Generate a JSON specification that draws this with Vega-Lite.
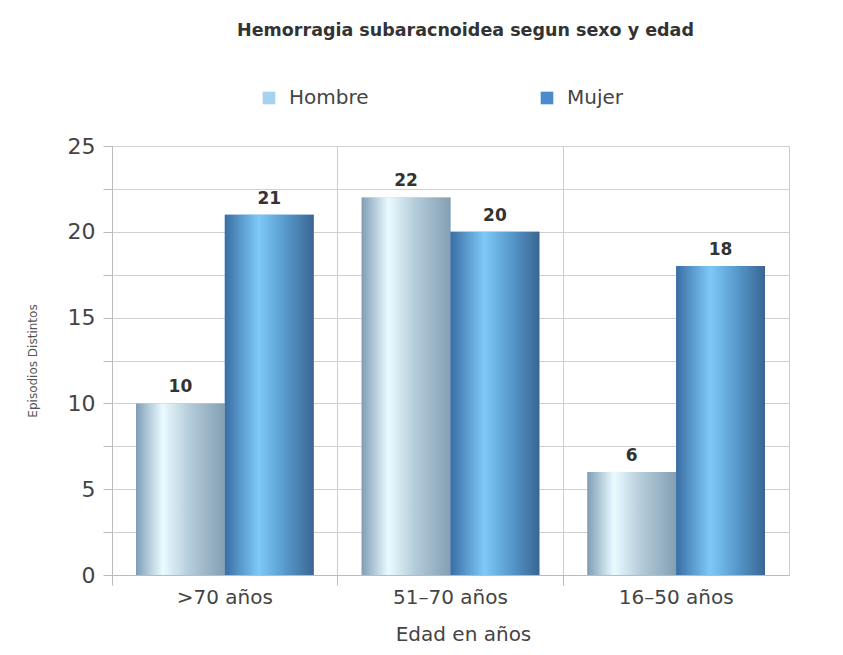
{
  "$schema": "https://vega.github.io/schema/vega-lite/v6.json",
  "width": 677,
  "height": 429,
  "autosize": {"type": "none"},
  "padding": {"left": 112, "top": 146, "right": 54, "bottom": 80},
  "background": "white",
  "title": {
    "text": "Hemorragia subaracnoidea segun sexo y edad",
    "font": "DejaVu Sans",
    "fontSize": 17.5,
    "fontWeight": "bold",
    "color": "#333333",
    "anchor": "middle",
    "dx": 15,
    "offset": 49
  },
  "config": {
    "view": {"stroke": "#cccccc", "strokeWidth": 1},
    "font": "DejaVu Sans"
  },
  "data": {
    "values": [
      {"edad": ">70 años", "sexo": "Hombre", "episodios": 10},
      {"edad": ">70 años", "sexo": "Mujer", "episodios": 21},
      {"edad": "51–70 años", "sexo": "Hombre", "episodios": 22},
      {"edad": "51–70 años", "sexo": "Mujer", "episodios": 20},
      {"edad": "16–50 años", "sexo": "Hombre", "episodios": 6},
      {"edad": "16–50 años", "sexo": "Mujer", "episodios": 18}
    ]
  },
  "encoding": {
    "x": {
      "field": "edad",
      "type": "nominal",
      "sort": [">70 años", "51–70 años", "16–50 años"],
      "scale": {"paddingInner": 0, "paddingOuter": 0},
      "axis": {
        "title": "Edad en años",
        "titleX": 351,
        "labelAngle": 0,
        "bandPosition": 0,
        "grid": true,
        "gridColor": "#cccccc",
        "tickSize": 10,
        "tickColor": "#bbbbbb",
        "domainColor": "#bbbbbb",
        "labelFontSize": 20,
        "labelColor": "#444444",
        "labelPadding": 2,
        "titleFontSize": 20,
        "titleFontWeight": "normal",
        "titleColor": "#444444",
        "titlePadding": 17
      }
    },
    "xOffset": {
      "field": "sexo",
      "type": "nominal",
      "scale": {"paddingOuter": 0.27, "paddingInner": 0}
    },
    "y": {
      "field": "episodios",
      "type": "quantitative",
      "scale": {"domain": [0, 25], "nice": false},
      "axis": {
        "title": "Episodios Distintos",
        "values": [0, 2.5, 5, 7.5, 10, 12.5, 15, 17.5, 20, 22.5, 25],
        "labelExpr": "datum.value % 5 === 0 ? datum.label : ''",
        "grid": true,
        "gridColor": "#d0d0d0",
        "tickSize": 9,
        "tickColor": "#bbbbbb",
        "domainColor": "#bbbbbb",
        "labelFontSize": 22,
        "labelColor": "#444444",
        "labelPadding": 8,
        "titleFontSize": 12,
        "titleFontWeight": "normal",
        "titleColor": "#555555",
        "titlePadding": 28
      }
    }
  },
  "layer": [
    {
      "mark": {"type": "bar"},
      "encoding": {
        "color": {
          "field": "sexo",
          "type": "nominal",
          "scale": {"domain": ["Hombre", "Mujer"], "range": ["#a6d2f2", "#4a8bcb"]},
          "legend": {
            "title": null,
            "orient": "none",
            "direction": "horizontal",
            "legendX": 147,
            "legendY": -58,
            "symbolType": "square",
            "symbolSize": 160,
            "symbolStrokeWidth": 0,
            "labelFontSize": 20,
            "labelColor": "#444444",
            "labelOffset": 10,
            "columnPadding": 168
          }
        }
      }
    },
    {
      "transform": [{"filter": "datum.sexo === 'Hombre'"}],
      "mark": {
        "type": "bar",
        "color": {
          "gradient": "linear",
          "x1": 0, "y1": 0, "x2": 1, "y2": 0,
          "stops": [
            {"offset": 0, "color": "#7f9db6"},
            {"offset": 0.3, "color": "#eafbff"},
            {"offset": 0.6, "color": "#b4ccda"},
            {"offset": 1, "color": "#849fb3"}
          ]
        }
      }
    },
    {
      "transform": [{"filter": "datum.sexo === 'Mujer'"}],
      "mark": {
        "type": "bar",
        "color": {
          "gradient": "linear",
          "x1": 0, "y1": 0, "x2": 1, "y2": 0,
          "stops": [
            {"offset": 0, "color": "#3a6ea3"},
            {"offset": 0.38, "color": "#7dc9f8"},
            {"offset": 0.7, "color": "#5596c8"},
            {"offset": 1, "color": "#3a6693"}
          ]
        }
      }
    },
    {
      "mark": {
        "type": "text",
        "baseline": "bottom",
        "dy": -7,
        "fontSize": 17,
        "fontWeight": "bold",
        "color": "#333333"
      },
      "encoding": {
        "text": {"field": "episodios", "type": "quantitative"}
      }
    }
  ]
}
